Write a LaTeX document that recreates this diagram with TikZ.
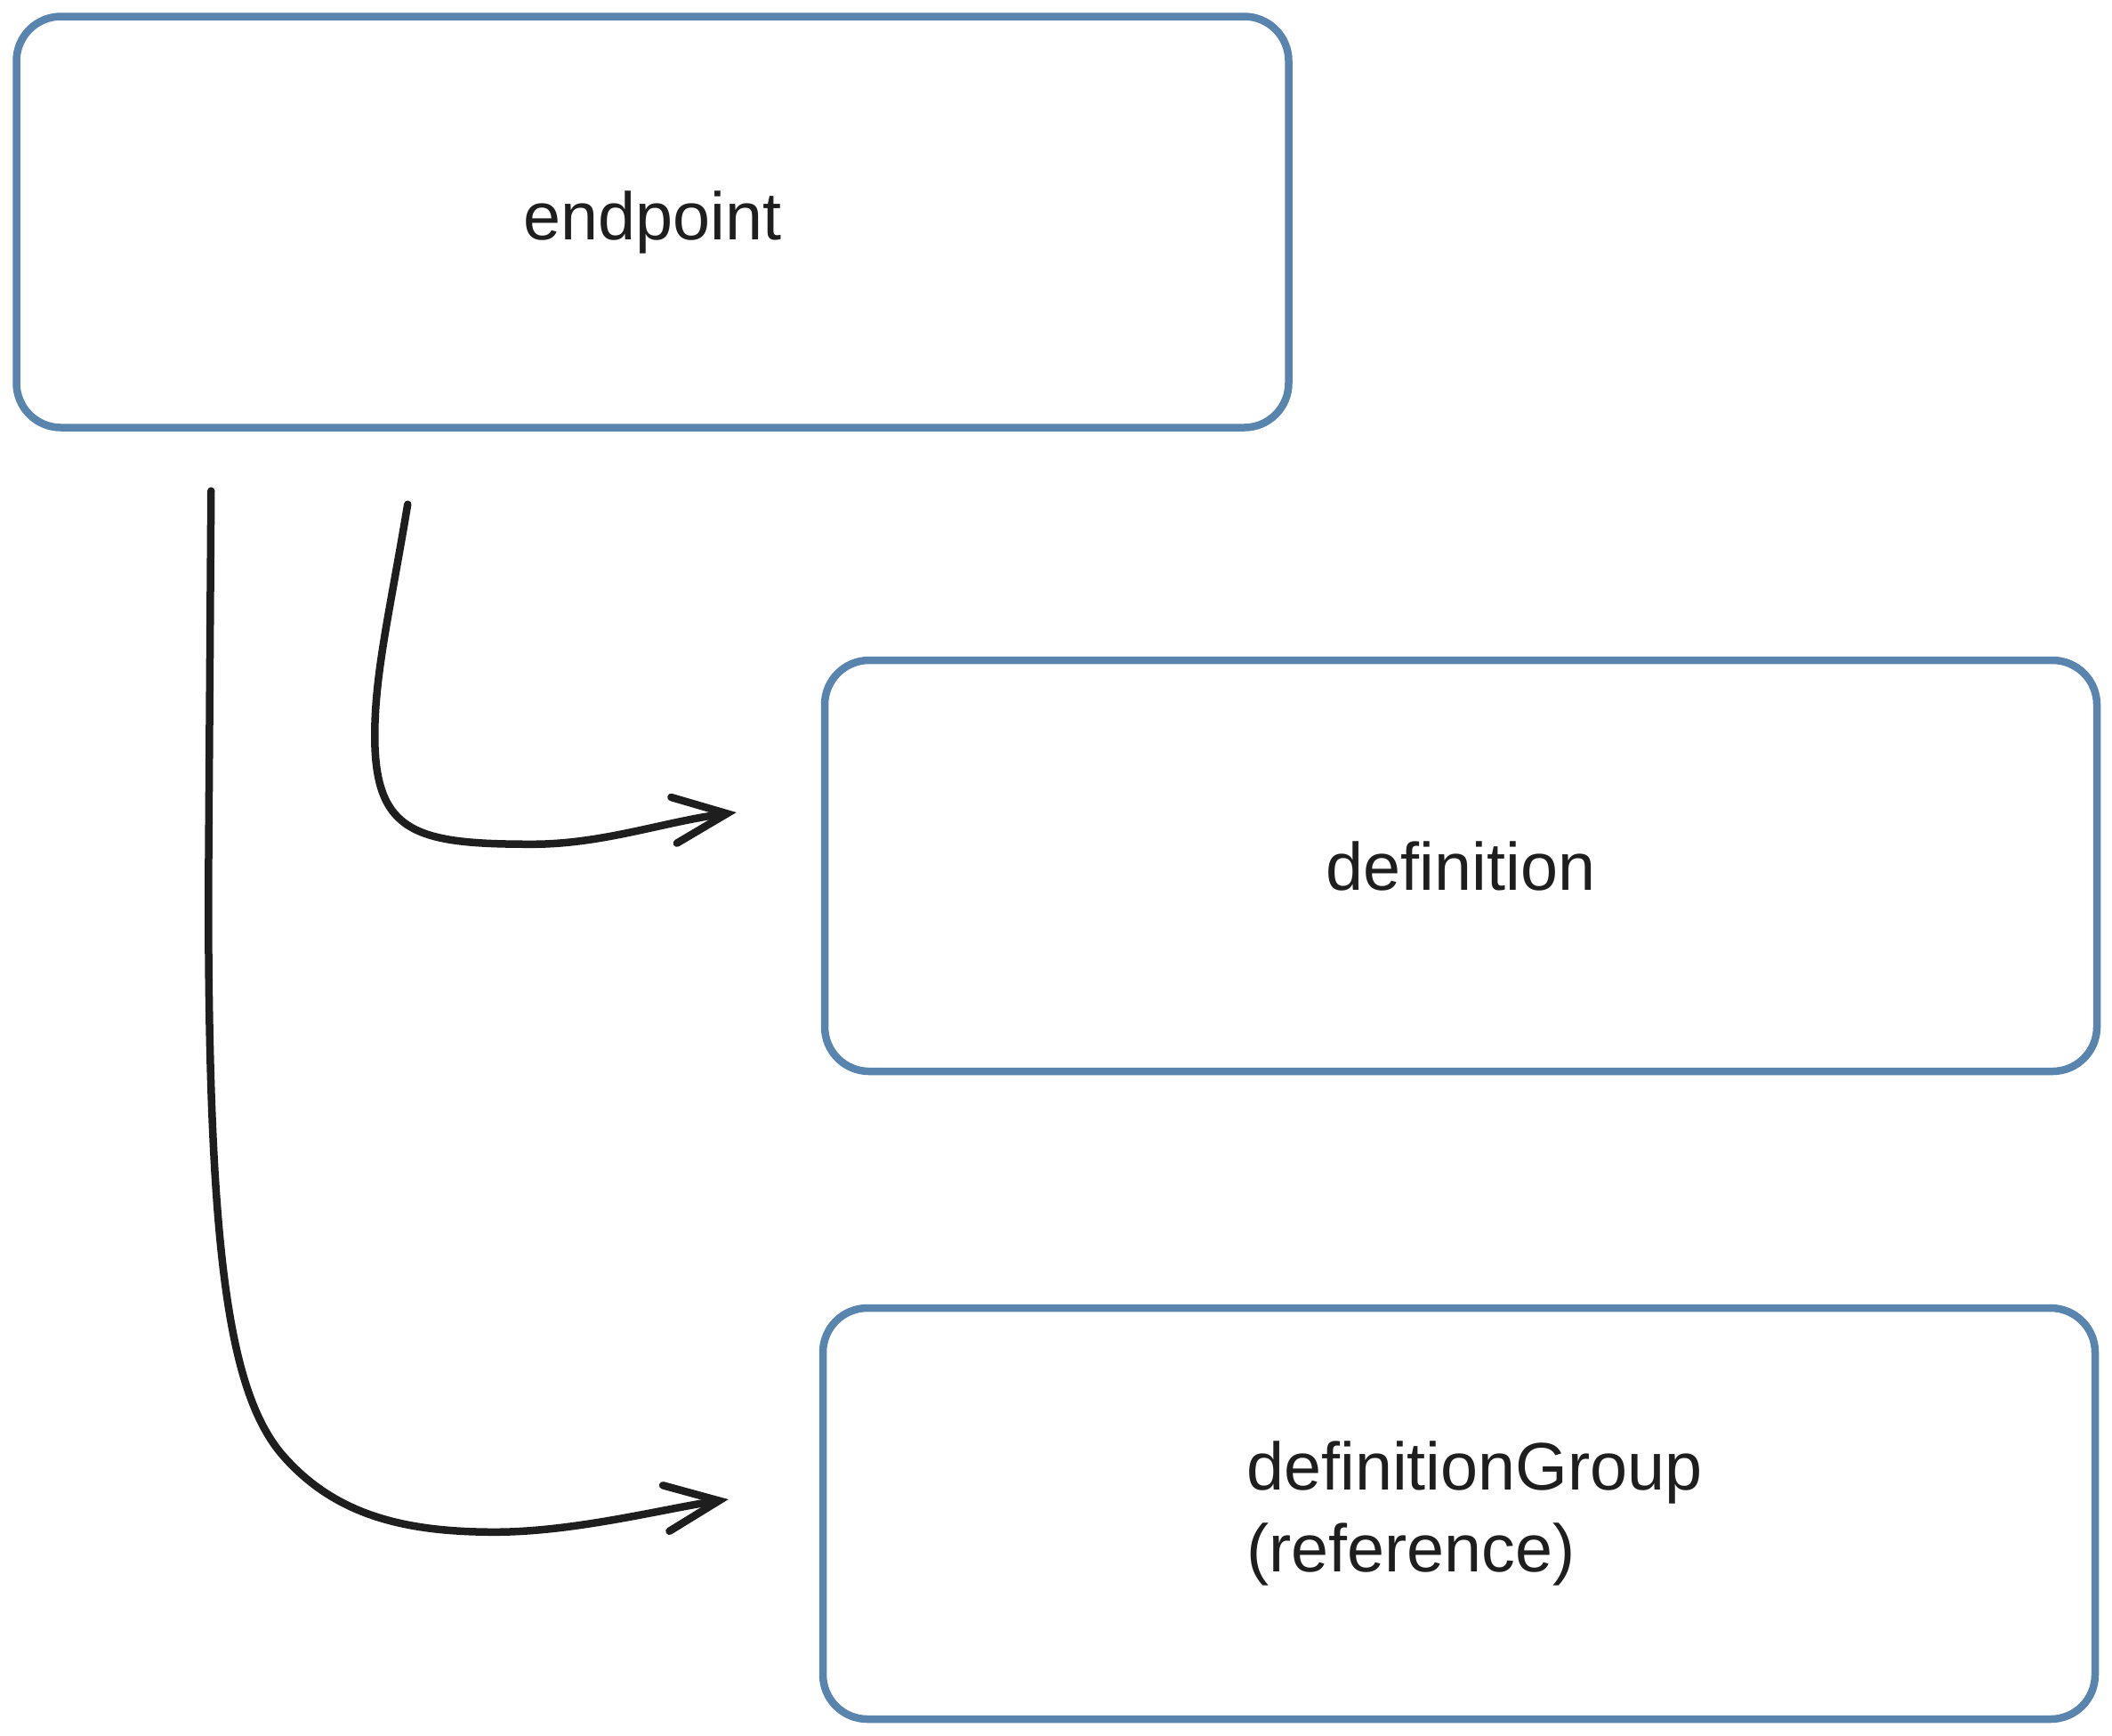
\documentclass[tikz,border=0pt]{standalone}
\usepackage{fontspec}
\setmainfont{Liberation Sans}
\usetikzlibrary{arrows.meta,calc}
\definecolor{boxblue}{RGB}{88,132,174}
\definecolor{inkblack}{RGB}{30,30,30}
\tikzset{
  box/.style={draw=boxblue, line width=0.085cm, rounded corners=0.5cm,
    minimum width=14.3cm, minimum height=4.62cm, inner sep=0pt,
    font=\fontsize{21.5}{26}\selectfont, text=inkblack, align=left},
  conn/.style={draw=inkblack, line width=0.085cm, line cap=round, line join=round,
    -{Straight Barb[length=0.6cm, width=0.52cm, line width=0.085cm, line cap=round]}}
}
\begin{document}
\begin{tikzpicture}
\useasboundingbox (0,0) rectangle (23.74,-19.50);
\node[box] (ep) at (7.335,-2.495) {endpoint};
\node[box] (def) at (16.42,-9.73) {definition};
\node[box] (grp) at (16.40,-17.01) {\hspace*{0.35cm}definitionGroup\\\hspace*{0.35cm}(reference)};
\coordinate (s1) at ([xshift=4.44cm,yshift=-0.82cm]ep.south west);
\coordinate (s2) at ([xshift=2.23cm,yshift=-0.67cm]ep.south west);
\coordinate (e1) at ([xshift=-0.95cm,yshift=0.60cm]def.west);
\coordinate (e2) at ([xshift=-1.02cm,yshift=0.16cm]grp.west);
\draw[conn] (s1) .. controls ($(s1)+(-0.2,-1.2)$) and ($(s1)+(-0.37,-1.9)$) .. ($(s1)+(-0.37,-2.6)$)
  .. controls ($(s1)+(-0.37,-3.7)$) and ($(s1)+(0.1,-3.82)$) .. ($(s1)+(1.4,-3.82)$)
  .. controls ($(s1)+(2.2,-3.82)$) and ($(e1)+(-0.8,-0.1)$) .. (e1);
\draw[conn] (s2) -- ($(s2)+(-0.03,-4.5)$)
  .. controls ($(s2)+(-0.03,-8.5)$) and ($(s2)+(0.19,-10.1)$) .. ($(s2)+(0.79,-10.82)$)
  .. controls ($(s2)+(1.39,-11.52)$) and ($(s2)+(2.19,-11.70)$) .. ($(s2)+(3.19,-11.70)$)
  .. controls ($(s2)+(4.09,-11.70)$) and ($(e2)+(-0.7,-0.1)$) .. (e2);
\end{tikzpicture}
\end{document}
